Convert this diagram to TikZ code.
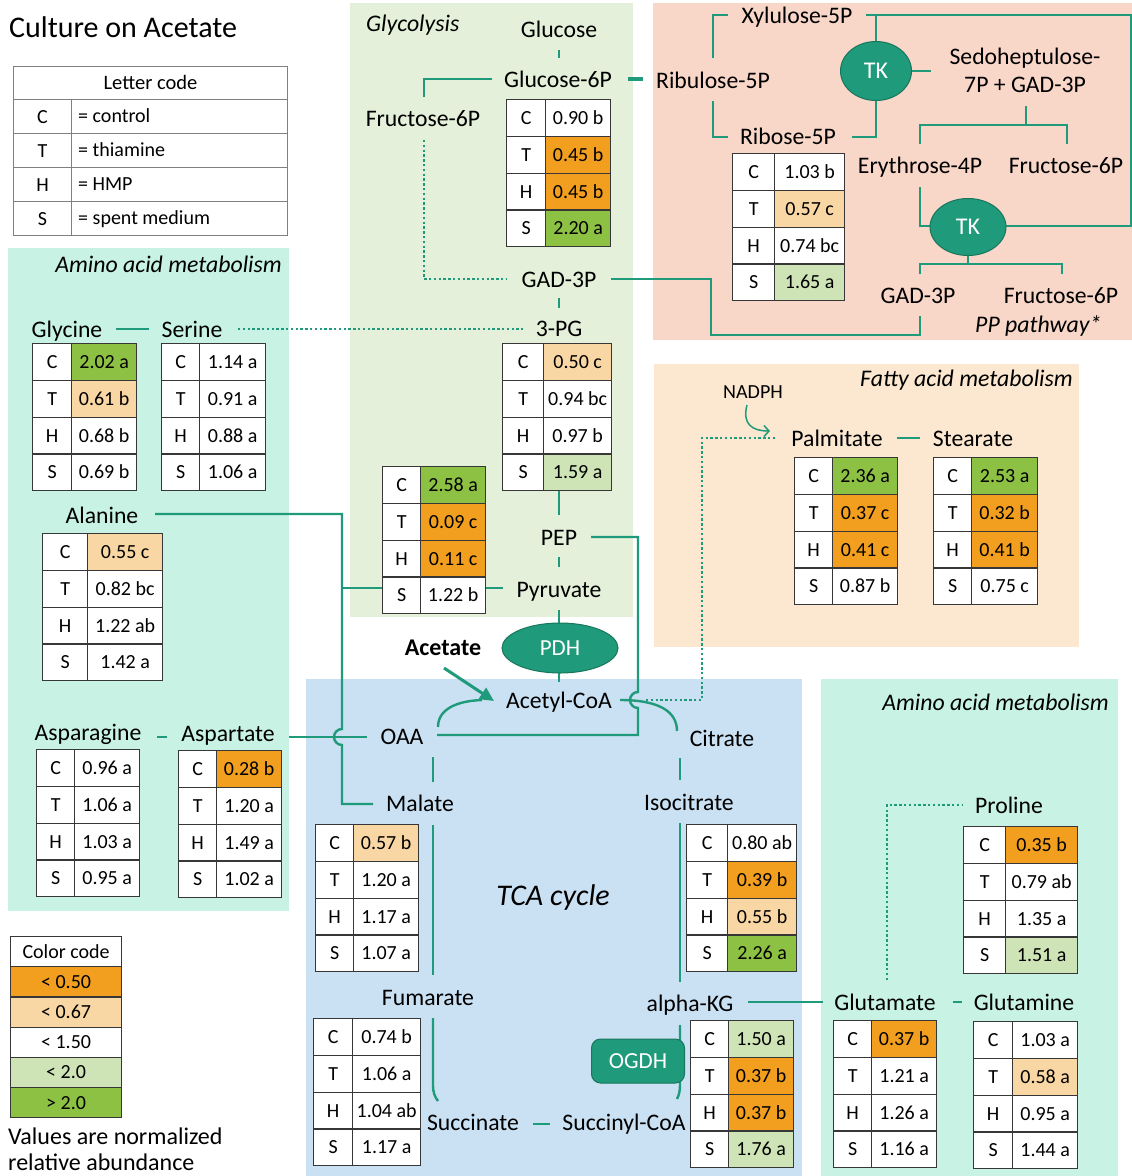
\documentclass[tikz,border=0pt]{standalone}
\usepackage{fontspec}
\setmainfont{Carlito}
\usetikzlibrary{shapes.geometric,arrows.meta}
\definecolor{tl}{RGB}{31,154,122}
\definecolor{tlD}{RGB}{24,118,93}
\definecolor{cGly}{RGB}{228,240,218}
\definecolor{cPP}{RGB}{248,214,200}
\definecolor{cMint}{RGB}{199,242,228}
\definecolor{cFat}{RGB}{252,232,208}
\definecolor{cTCA}{RGB}{202,225,243}
\definecolor{orA}{RGB}{242,159,31}
\definecolor{orL}{RGB}{249,215,164}
\definecolor{gnL}{RGB}{207,228,182}
\definecolor{gnD}{RGB}{141,193,68}
\definecolor{tab}{RGB}{55,55,55}
\definecolor{grayb}{RGB}{128,128,128}
\newcommand\fsz[2]{\fontsize{#1}{#2}\selectfont}
\newcommand\datatab[6]{%
  \foreach \ltr/\val/\col [count=\i from 0] in {#6}{%
    \node[cellbox, minimum width=#4pt, fill=white] (#1L\i) at (#2, #3+36.75*\i) {\ltr};
    \node[cellbox, minimum width=#5pt, fill=\col] (#1V\i) at (#2+#4, #3+36.75*\i) {\val};
  }}
\begin{document}
\begin{tikzpicture}[x=1pt,y=-1pt,
  ln/.style={draw=tl, line width=2.4pt},
  dl/.style={draw=tl, line width=2.4pt, dash pattern=on 2.4pt off 2.4pt},
  lbl/.style={font=\fsz{23.7}{28}, text height=15.5pt, text depth=0pt, inner sep=0pt},
  ital/.style={font=\fsz{23.8}{28}\itshape, text height=15.5pt, text depth=0pt, inner sep=0pt},
  enz/.style={ellipse, fill=tl, draw=tlD, line width=1pt, text=white, font=\fsz{24}{28}, inner sep=0pt},
  cellbox/.style={draw=tab, line width=1.3pt, minimum height=36.75pt, inner sep=0pt, anchor=north west, font=\fsz{20}{24}, text height=13pt, text depth=0pt}]
\path[use as bounding box, fill=white] (0,0) rectangle (1132,1176);
% panels
\fill[cGly] (350,3) rectangle (633,617);
\fill[cPP] (653,3) rectangle (1132,340);
\fill[cMint] (8,248) rectangle (289,911);
\fill[cFat] (654,364) rectangle (1079,647);
\fill[cTCA] (306,679) rectangle (802,1176);
\fill[cMint] (821,679) rectangle (1118,1176);
% title and letter code
\node[font=\fsz{30}{34}, anchor=west, inner sep=0pt, text height=19pt, text depth=0pt] (title) at (9,28) {Culture on Acetate};
\node[draw=grayb, line width=1pt, minimum width=274pt, minimum height=33pt, anchor=north west, inner sep=0pt, font=\fsz{20.5}{24}, text height=13pt, text depth=0pt] (lchead) at (13,66) {Letter code};
\foreach \ltr/\txt [count=\i from 0] in {C/= control, T/= thiamine, H/= HMP, S/= spent medium}{
  \node[draw=grayb, line width=1pt, minimum width=58pt, minimum height=34pt, anchor=north west, inner sep=0pt, font=\fsz{20}{24}, text height=13pt, text depth=0pt] (lcL\i) at (13,99+34*\i) {\ltr};
  \node[draw=grayb, line width=1pt, minimum width=216pt, minimum height=34pt, anchor=north west, inner sep=0pt] (lcB\i) at (71,99+34*\i) {};
  \node[anchor=west, font=\fsz{20}{24}, inner sep=0pt, text height=13pt, text depth=0pt] (lcT\i) at (78,116+34*\i) {\txt};
}
% color code
\foreach \txt/\col [count=\i from 0] in {Color code/white, < 0.50/orA, < 0.67/orL, < 1.50/white, < 2.0/gnL, > 2.0/gnD}{
  \node[draw=tab, line width=1.2pt, fill=\col, minimum width=111pt, minimum height=30.17pt, anchor=north west, inner sep=0pt, font=\fsz{20}{24}, text height=13pt, text depth=0pt] (cc\i) at (10,936+30.17*\i) {\txt};
}
\node[anchor=west, font=\fsz{24}{28}, inner sep=0pt, text height=15.5pt, text depth=0pt] (vals1) at (8,1137) {Values are normalized};
\node[anchor=west, font=\fsz{24}{28}, inner sep=0pt, text height=15.5pt, text depth=0pt] (vals2) at (8,1163) {relative abundance};
% ---------- connectors ----------
% glycolysis
\draw[ln] (559,50) -- (559,58);
\draw[ln] (492,79) -- (424,79) -- (424,97);
\draw[draw=tl, line width=3.5pt] (628,79) -- (643,79);
\draw[dl] (424,140) -- (424,279) -- (507,279);
\draw[ln] (611,279) -- (711,279) -- (711,335) -- (920,335) -- (920,316);
\draw[ln] (559,298) -- (559,308);
\draw[dl] (238,329) -- (523,329);
\draw[ln] (559,490) -- (559,515);
\draw[ln] (559,557) -- (559,567);
\draw[ln] (503,588) -- (485,588);
\draw[ln] (382,588) -- (342,588);
\draw[ln] (155,514) -- (342,514) -- (342,729) arc[start angle=90, end angle=270, radius=8pt] -- (342,804) -- (373,804);
\draw[ln] (559,610) -- (559,624);
\draw[ln] (559,672) -- (559,682);
\draw[ln] (289,737) -- (367,737);
\draw[ln] (116,329) -- (149,329);
\draw[ln] (157,737) -- (167,737);
% TCA
\draw[ln] (620,700) .. controls (660,700) and (677,712) .. (677,731);
\draw[ln] (591,537) -- (638,537) -- (638,692) arc[start angle=90, end angle=270, radius=8pt] -- (638,735) -- (437,735);
\draw[ln] (438,727) .. controls (438,710) and (455,701) .. (482,700);
\draw[draw=tl, line width=3pt, -{Triangle[length=14pt,width=13pt]}] (444,668) -- (494,701);
\draw[dl] (646,700) -- (702,700) -- (702,438) -- (777,438);
\draw[draw=tl, line width=1.5pt, -{Straight Barb[length=5pt,width=11pt]}] (747,405) .. controls (742,424) and (752,431) .. (770,431);
\draw[ln] (897,438) -- (920,438);
\draw[ln] (433,757) -- (433,782);
\draw[ln] (433,825) -- (433,975);
\draw[ln] (433,1018) -- (433,1085) .. controls (433,1093) and (435,1097) .. (438,1101);
\draw[ln] (533,1124) -- (550,1124);
\draw[ln] (680,1025) -- (680,1085) .. controls (680,1091) and (679,1095) .. (677,1099);
\draw[ln] (680,758) -- (680,780);
\draw[ln] (680,823) -- (680,982);
\draw[ln] (748,1002) -- (823,1002);
\draw[ln] (953,1002) -- (962,1002);
\draw[dl] (887,980) -- (887,805) -- (963,805);
% PP pathway
\draw[ln] (728,15) -- (713,15) -- (713,58);
\draw[ln] (713,101) -- (713,137) -- (728,137);
\draw[ln] (866,15) -- (1131,15) -- (1131,226) -- (1004,226);
\draw[ln] (876,15) -- (876,42);
\draw[ln] (910,71) -- (931,71);
\draw[ln] (876,99) -- (876,137) -- (852,137);
\draw[ln] (1026,106) -- (1026,125);
\draw[ln] (920,144) -- (920,125) -- (1067,125) -- (1067,144);
\draw[ln] (920,187) -- (920,226) -- (932,226);
\draw[ln] (968,254) -- (968,264);
\draw[ln] (920,274) -- (920,264) -- (1062,264) -- (1062,274);
% ---------- labels ----------
\node[ital, anchor=west] (tglyc) at (366,24) {Glycolysis};
\node[lbl] (glc) at (559,30) {Glucose};
\node[lbl] (g6p) at (558,80) {Glucose-6P};
\node[lbl] (f6p) at (423,119) {Fructose-6P};
\node[lbl] (gap) at (559,280) {GAD-3P};
\node[lbl] (pg3) at (559,329) {3-PG};
\node[lbl] (pep) at (559,538) {PEP};
\node[lbl] (pyr) at (559,590) {Pyruvate};
\node[lbl, font=\fsz{24}{28}\bfseries] (acet) at (443,648) {Acetate};
\node[lbl] (acoa) at (559,701) {Acetyl-CoA};
\node[lbl] (oaa) at (402,737) {OAA};
\node[lbl] (cit) at (722,739) {Citrate};
\node[lbl] (mal) at (420,804) {Malate};
\node[lbl] (iso) at (689,803) {Isocitrate};
\node[ital, font=\fsz{30}{35}\itshape, text height=20pt] (ttca) at (553,895) {TCA cycle};
\node[lbl] (fum) at (428,998) {Fumarate};
\node[lbl] (akg) at (690,1004) {alpha-KG};
\node[lbl] (suc) at (473,1123) {Succinate};
\node[lbl] (sca) at (624,1123) {Succinyl-CoA};
\node[lbl] (xyl) at (797,16) {Xylulose-5P};
\node[lbl] (ru5p) at (713,81) {Ribulose-5P};
\node[lbl] (r5p) at (788,137) {Ribose-5P};
\node[lbl] (sedo1) at (1025,57) {Sedoheptulose-};
\node[lbl] (sedo2) at (1025,85) {7P + GAD-3P};
\node[lbl] (e4p) at (920,166) {Erythrose-4P};
\node[lbl] (f6pb) at (1066,166) {Fructose-6P};
\node[lbl] (gapb) at (918,296) {GAD-3P};
\node[lbl] (f6pc) at (1061,296) {Fructose-6P};
\node[ital, anchor=west] (tpp) at (975,325) {PP pathway*};
\node[ital, anchor=east] (taa1) at (282,265) {Amino acid metabolism};
\node[lbl] (gly) at (67,330) {Glycine};
\node[lbl] (ser) at (192,330) {Serine};
\node[lbl] (ala) at (102,516) {Alanine};
\node[lbl] (asn) at (88,733) {Asparagine};
\node[lbl] (asp) at (228,734) {Aspartate};
\node[ital, anchor=east] (tfat) at (1073,379) {Fatty acid metabolism};
\node[lbl, font=\fsz{20}{24}, text height=13pt] (nadph) at (753,392) {NADPH};
\node[lbl] (pal) at (837,439) {Palmitate};
\node[lbl] (ste) at (973,439) {Stearate};
\node[ital, anchor=east] (taa2) at (1109,703) {Amino acid metabolism};
\node[lbl] (pro) at (1009,806) {Proline};
\node[lbl] (glu) at (885,1003) {Glutamate};
\node[lbl] (gln) at (1024,1003) {Glutamine};
% enzymes
\node[enz, minimum width=71pt, minimum height=59pt] (tk1) at (876,71) {TK};
\node[enz, minimum width=76pt, minimum height=57pt] (tk2) at (968,227) {TK};
\node[enz, minimum width=116pt, minimum height=50pt, font=\fsz{23}{27}] (pdh) at (560,648) {PDH};
\node[rectangle, rounded corners=9pt, fill=tl, draw=tlD, line width=1pt, text=white, font=\fsz{23}{27}, minimum width=93pt, minimum height=44pt, inner sep=0pt] (ogdh) at (638,1061) {OGDH};
% ---------- data tables ----------
\datatab{tg6p}{506}{99}{39}{65}{C/0.90 b/white, T/0.45 b/orA, H/0.45 b/orA, S/2.20 a/gnD}
\datatab{tr5p}{732}{153}{42}{70}{C/1.03 b/white, T/0.57 c/orL, H/0.74 bc/white, S/1.65 a/gnL}
\datatab{tgly}{32}{343}{39}{65}{C/2.02 a/gnD, T/0.61 b/orL, H/0.68 b/white, S/0.69 b/white}
\datatab{tser}{161}{343}{38}{66}{C/1.14 a/white, T/0.91 a/white, H/0.88 a/white, S/1.06 a/white}
\datatab{tala}{42}{533}{45}{75}{C/0.55 c/orL, T/0.82 bc/white, H/1.22 ab/white, S/1.42 a/white}
\datatab{tpg3}{502}{343}{41}{68}{C/0.50 c/orL, T/0.94 bc/white, H/0.97 b/white, S/1.59 a/gnL}
\datatab{tpyr}{382}{466}{38}{65}{C/2.58 a/gnD, T/0.09 c/orA, H/0.11 c/orA, S/1.22 b/white}
\datatab{tpal}{794}{457}{38}{65}{C/2.36 a/gnD, T/0.37 c/orA, H/0.41 c/orA, S/0.87 b/white}
\datatab{tste}{933}{457}{38}{66}{C/2.53 a/gnD, T/0.32 b/orA, H/0.41 b/orA, S/0.75 c/white}
\datatab{tmal}{315}{824}{38}{65}{C/0.57 b/orL, T/1.20 a/white, H/1.17 a/white, S/1.07 a/white}
\datatab{tfum}{313}{1018}{39}{68}{C/0.74 b/white, T/1.06 a/white, H/1.04 ab/white, S/1.17 a/white}
\datatab{tiso}{686}{824}{41}{69}{C/0.80 ab/white, T/0.39 b/orA, H/0.55 b/orL, S/2.26 a/gnD}
\datatab{takg}{690}{1020}{38}{65}{C/1.50 a/gnL, T/0.37 b/orA, H/0.37 b/orA, S/1.76 a/gnL}
\datatab{tglu}{833}{1020}{38}{65}{C/0.37 b/orA, T/1.21 a/white, H/1.26 a/white, S/1.16 a/white}
\datatab{tgln}{973}{1021}{39}{65}{C/1.03 a/white, T/0.58 a/orL, H/0.95 a/white, S/1.44 a/white}
\datatab{tpro}{963}{826}{42}{72}{C/0.35 b/orA, T/0.79 ab/white, H/1.35 a/white, S/1.51 a/gnL}
\datatab{tasn}{36}{749}{38}{65}{C/0.96 a/white, T/1.06 a/white, H/1.03 a/white, S/0.95 a/white}
\datatab{tasp}{178}{750}{38}{65}{C/0.28 b/orA, T/1.20 a/white, H/1.49 a/white, S/1.02 a/white}
\end{tikzpicture}
\end{document}
